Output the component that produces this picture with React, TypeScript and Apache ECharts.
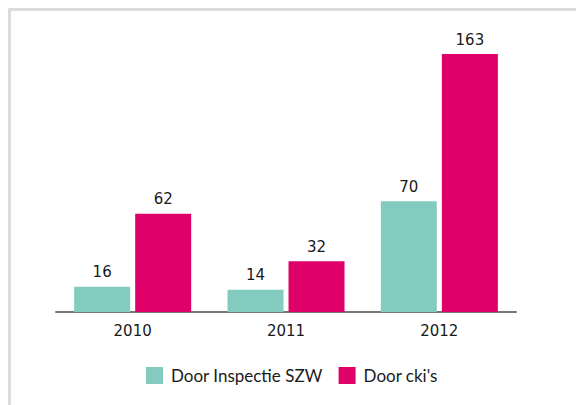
import React, { useEffect, useRef } from "react";
import * as echarts from "echarts";

const categories = ["2010", "2011", "2012"];
const seriesNames = ["Door Inspectie SZW", "Door cki's"];
const inspectieValues = [16, 14, 70];
const ckiValues = [62, 32, 163];

const FONT = "Lato, 'Open Sans', sans-serif";
const NUMFONT = "'DejaVu Sans', sans-serif";

export default function App() {
  const ref = useRef<HTMLDivElement>(null);
  useEffect(() => {
    if (!ref.current) return;
    const chart = echarts.init(ref.current, null, { renderer: "svg" });
    const label = {
      show: true,
      position: "top",
      distance: 7,
      fontSize: 15,
      fontFamily: NUMFONT,
      color: "#1a1a1a",
    };
    chart.setOption({
      animation: false,
      backgroundColor: "#ffffff",
      graphic: [
        {
          type: "rect",
          shape: { x: 9.5, y: 9.5, width: 700, height: 700 },
          style: { fill: "none", stroke: "#dcdcdc", lineWidth: 3 },
          silent: true,
        },
      ],
      grid: { left: 56, right: 60, top: 54, bottom: 93 },
      legend: {
        data: seriesNames,
        top: 362,
        left: 141,
        itemWidth: 17,
        itemHeight: 17,
        itemGap: 16,
        icon: "rect",
        textStyle: { fontSize: 17, fontFamily: FONT, color: "#1a1a1a", padding: [0, 0, 0, 3] },
      },
      xAxis: {
        type: "category",
        data: categories,
        axisLine: { lineStyle: { color: "#777777", width: 2 } },
        axisTick: { show: false },
        axisLabel: { fontSize: 15, fontFamily: NUMFONT, color: "#1a1a1a", margin: 11 },
      },
      yAxis: {
        type: "value",
        min: 0,
        max: 163,
        show: false,
        splitLine: { show: false },
      },
      series: [
        {
          name: seriesNames[0],
          type: "bar",
          data: inspectieValues,
          barWidth: 56,
          barGap: "9%",
          itemStyle: { color: "#84cbbf" },
          label,
        },
        {
          name: seriesNames[1],
          type: "bar",
          data: ckiValues,
          barWidth: 56,
          barGap: "9%",
          itemStyle: { color: "#e0006a" },
          label,
        },
      ],
    });
    return () => chart.dispose();
  }, []);
  return (
    <div
      ref={ref}
      style={{ position: "fixed", left: 0, top: 0, width: 576, height: 405 }}
    />
  );
}
